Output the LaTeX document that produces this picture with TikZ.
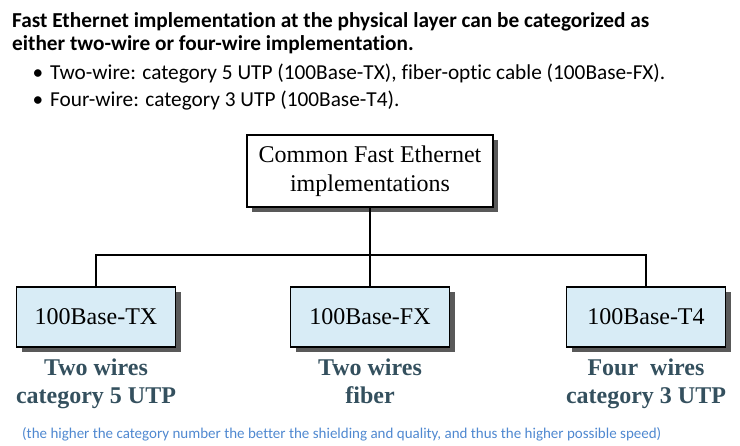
\documentclass[tikz,border=0pt]{standalone}
\usepackage{fontspec}
\setmainfont[Ligatures=NoCommon]{Carlito}
\newfontfamily\bookfont{Liberation Serif}
\usetikzlibrary{shadows}

\definecolor{boxblue}{HTML}{D8ECF6}
\definecolor{wiretext}{HTML}{34505E}
\definecolor{noteblue}{HTML}{4F88D0}

\tikzset{
  imp/.style={draw, line width=1.4pt, fill=boxblue, minimum width=159pt, minimum height=60pt,
    font=\bookfont\fontsize{24}{29}\selectfont,
    drop shadow={shadow xshift=5pt, shadow yshift=-5pt, fill=black!65, opacity=1}},
  wires/.style={align=center, text=wiretext, anchor=north, inner sep=0pt,
    font=\bookfont\bfseries\fontsize{24}{28}\selectfont},
  line/.style={line width=1.8pt}
}

\begin{document}
\begin{tikzpicture}[x=1pt, y=-1pt]
    \useasboundingbox (0,0) rectangle (740,446);
    % heading and bullets
    \node[anchor=base west, inner sep=0pt, font=\bfseries\fontsize{21.3}{24}\selectfont] (head1) at (12,28) {Fast Ethernet implementation at the physical layer can be categorized as};
    \node[anchor=base west, inner sep=0pt, font=\bfseries\fontsize{21.3}{24}\selectfont] (head2) at (12,51) {either two-wire or four-wire implementation.};
    \node[anchor=base west, inner sep=0pt, font=\fontsize{21.3}{24}\selectfont] (bul1) at (50,80) {\llap{•\hspace{7pt}}Two-wire: category 5 UTP (100Base-TX), fiber-optic cable (100Base-FX).};
    \node[anchor=base west, inner sep=0pt, font=\fontsize{21.3}{24}\selectfont] (bul2) at (50,107) {\llap{•\hspace{7pt}}Four-wire: category 3 UTP (100Base-T4).};

    % tree
    \node[imp, fill=white, minimum width=246pt, minimum height=72pt, align=center] (top) at (370,171) {Common Fast Ethernet\\implementations};
    \node[imp] (tx) at (96,317) {100Base-TX};
    \node[imp] (fx) at (370,317) {100Base-FX};
    \node[imp] (t4) at (646,317) {100Base-T4};
    \coordinate (bus) at (370,255);
    \draw[line] (top.south) -- (fx.north);
    \draw[line] (tx.north) |- (bus) -| (t4.north);

    \node[wires] (txw) at (96,359) {Two wires\\category 5 UTP};
    \node[wires] (fxw) at (370,359) {Two wires\\fiber};
    \node[wires] (t4w) at (646,359) {Four\ \ wires\\category 3 UTP};

    \node[anchor=base west, inner sep=0pt, text=noteblue, font=\fontsize{15}{18}\selectfont] (note) at (22,439) {(the higher the category number the better the shielding and quality, and thus the higher possible speed)};
\end{tikzpicture}
\end{document}
